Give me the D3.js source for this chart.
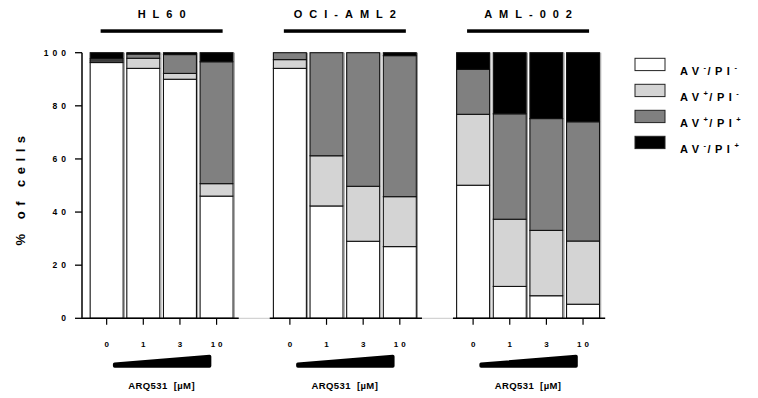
<!DOCTYPE html>
<html>
<head>
<meta charset="utf-8">
<script src="https://cdn.jsdelivr.net/npm/d3@7"></script>
<style>
  body { margin: 0; background: #fff; }
  svg { display: block; font-family: 'Liberation Sans', Arial, sans-serif; font-weight: bold; }
</style>
</head>
<body>
<svg id="chart" width="758" height="398"></svg>
<script>
// data (% of cells)
const cellLines = ['HL60', 'OCI-AML2', 'AML-002'];
const doses = ['0', '1', '3', '10'];
const categories = ['avNegPiNeg', 'avPosPiNeg', 'avPosPiPos', 'avNegPiPos'];
const avNegPiNeg = [[96.3, 94.1, 90.0, 46.0], [94.1, 42.3, 29.0, 27.0], [50.1, 12.0, 8.5, 5.3]];
const avPosPiNeg = [[0.6, 3.8, 2.2, 4.7], [3.3, 18.9, 20.7, 18.8], [26.7, 25.3, 24.6, 23.8]];
const avPosPiPos = [[0.8, 1.6, 7.1, 45.9], [2.6, 38.8, 50.3, 53.1], [16.9, 39.7, 42.1, 44.9]];
const avNegPiPos = [[2.3, 0.5, 0.7, 3.4], [0, 0, 0, 1.1], [6.3, 23.0, 24.8, 26.0]];
const legendSigns = [['-', '-'], ['+', '-'], ['+', '+'], ['-', '+']];
const yTicks = [0, 20, 40, 60, 80, 100];
const colors = ['#ffffff', '#d4d4d4', '#808080', '#000000'];

const svg = d3.select('#chart');

const yScale = d3.scaleLinear().domain([0, 100]).range([318.3, 52.7]);
const panelScale = d3.scaleBand().domain(cellLines).range([86.5, 603.2]).paddingInner(0.18);
const doseScale = d3.scaleBand().domain(doses).range([0, panelScale.bandwidth()]).paddingInner(0.1).paddingOuter(0.1);
const color = d3.scaleOrdinal().domain(categories).range(colors);

const series = { avNegPiNeg, avPosPiNeg, avPosPiPos, avNegPiPos };
const stack = d3.stack().keys(categories);

// y axis
const yAxisX = 82;
const gY = svg.append('g').attr('transform', 'translate(' + yAxisX + ',0)');
gY.append('line').attr('y1', yScale(0)).attr('y2', yScale(100)).attr('stroke', '#000').attr('stroke-width', 1.5);
gY.selectAll('.ytick').data(yTicks).enter().append('line')
    .attr('x1', -7).attr('x2', 0)
    .attr('y1', d => yScale(d)).attr('y2', d => yScale(d))
    .attr('stroke', '#000').attr('stroke-width', 1.3);
gY.selectAll('.ylab').data(yTicks).enter().append('text')
    .attr('x', -12).attr('y', d => yScale(d) + 3)
    .attr('text-anchor', 'end')
    .style('font-size', '8.5px').style('letter-spacing', '4px')
    .text(d => d);

svg.append('text')
    .attr('transform', 'translate(25,' + 188 + ') rotate(-90)')
    .attr('text-anchor', 'middle')
    .style('font-size', '13px').style('letter-spacing', '5.5px')
    .text('% of cells');

// light gray baseline between panels
svg.append('line')
    .attr('x1', yAxisX).attr('x2', panelScale('AML-002') + 5)
    .attr('y1', yScale(0)).attr('y2', yScale(0))
    .attr('stroke', '#c8c8c8').attr('stroke-width', 1);

cellLines.forEach((line, li) => {
    const px = panelScale(line);
    const rows = doses.map((dose, di) => {
        const r = { dose };
        categories.forEach(k => { r[k] = series[k][li][di]; });
        return r;
    });
    const stacked = stack(rows);
    const g = svg.append('g').attr('transform', 'translate(' + px + ',0)');

    // title
    const cx = panelScale.bandwidth() / 2;
    g.append('text')
        .attr('x', cx + 3.5).attr('y', 18)
        .attr('text-anchor', 'middle')
        .style('font-size', '11px').style('letter-spacing', '7px')
        .text(line);
    g.append('rect')
        .attr('x', cx - 61).attr('y', 29.3)
        .attr('width', 122).attr('height', 3.5)
        .attr('fill', '#000');

    // bars
    g.selectAll('.layer').data(stacked).enter().append('g')
        .attr('fill', d => color(d.key))
        .selectAll('rect').data(d => d).enter().append('rect')
        .attr('x', d => doseScale(d.data.dose))
        .attr('width', doseScale.bandwidth())
        .attr('y', d => yScale(d[1]))
        .attr('height', d => yScale(d[0]) - yScale(d[1]))
        .attr('stroke', '#111').attr('stroke-width', 1.1);

    // right shadow edge of each bar
    g.selectAll('.edge').data(doses).enter().append('line')
        .attr('x1', d => doseScale(d) + doseScale.bandwidth() + 1.2)
        .attr('x2', d => doseScale(d) + doseScale.bandwidth() + 1.2)
        .attr('y1', yScale(100)).attr('y2', yScale(0))
        .attr('stroke', '#999').attr('stroke-width', 1);

    // x axis
    const axStart = li === 0 ? yAxisX - px : 0;
    g.append('line')
        .attr('x1', axStart).attr('x2', panelScale.bandwidth() + 2)
        .attr('y1', yScale(0)).attr('y2', yScale(0))
        .attr('stroke', '#000').attr('stroke-width', 1.5);
    g.selectAll('.xtick').data(doses).enter().append('line')
        .attr('x1', d => doseScale(d) + doseScale.bandwidth() / 2)
        .attr('x2', d => doseScale(d) + doseScale.bandwidth() / 2)
        .attr('y1', yScale(0)).attr('y2', yScale(0) + 6.5)
        .attr('stroke', '#000').attr('stroke-width', 1.2);
    g.selectAll('.xlab').data(doses).enter().append('text')
        .attr('x', d => doseScale(d) + doseScale.bandwidth() / 2 + 1.5)
        .attr('y', 346.5)
        .attr('text-anchor', 'middle')
        .style('font-size', '8px').style('letter-spacing', '3px')
        .text(d => d);

    // concentration wedge
    const w0 = doseScale('0') + doseScale.bandwidth() / 2 + 8;
    const w1 = doseScale('10') + doseScale.bandwidth() / 2 - 7;
    g.append('polygon')
        .attr('points', [[w0, 366], [w1, 366], [w1, 356.5], [w0, 364.3]].map(p => p.join(',')).join(' '))
        .attr('fill', '#000').attr('stroke', '#000')
        .attr('stroke-width', 3.5).attr('stroke-linejoin', 'round');

    g.append('text')
        .attr('x', cx).attr('y', 389)
        .attr('text-anchor', 'middle')
        .style('font-size', '9.5px').style('letter-spacing', '0.4px').style('word-spacing', '3px')
        .text('ARQ531 [µM]');
});

// legend
const legend = svg.append('g').attr('transform', 'translate(635,58.3)');
const items = legend.selectAll('.item').data(categories).enter().append('g')
    .attr('transform', (d, i) => 'translate(0,' + i * 26 + ')');
items.append('rect')
    .attr('width', 30).attr('height', 12.3)
    .attr('fill', d => color(d))
    .attr('stroke', '#222').attr('stroke-width', 1);
const lt = items.append('text')
    .attr('x', 45).attr('y', 16.5)
    .style('font-size', '11px').style('letter-spacing', '4.5px');
lt.append('tspan').text('AV');
lt.append('tspan').attr('dy', -5).style('font-size', '7.5px').style('letter-spacing', '1.5px')
    .text((d, i) => legendSigns[i][0]);
lt.append('tspan').attr('dy', 5).text('/PI');
lt.append('tspan').attr('dy', -5).style('font-size', '7.5px')
    .text((d, i) => legendSigns[i][1]);
</script>
</body>
</html>
